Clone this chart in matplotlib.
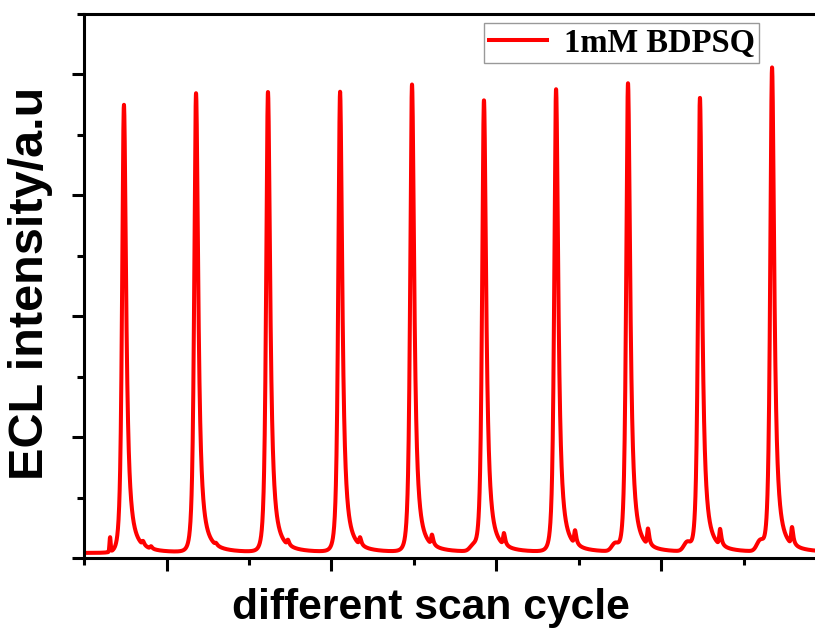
import numpy as np
import matplotlib
matplotlib.use("Agg")
import matplotlib.pyplot as plt
from matplotlib.ticker import MultipleLocator, NullFormatter

# ---- data (x in arbitrary scan units, y in a.u.) ----
peak_x = [74.2, 117.9, 161.5, 205.2, 248.8, 292.4, 336.1, 379.7, 423.3, 467.0]
peak_h = [3.75, 3.84, 3.85, 3.85, 3.91, 3.78, 3.87, 3.92, 3.80, 4.05]

# small secondary spikes after each cycle peak
bump_x = [85.8, 90.6, 130.0, 173.6, 217.3, 260.9, 304.5, 347.6, 391.8, 435.5, 479.1]
bump_h = [0.03, 0.02, 0.015, 0.04, 0.06, 0.08, 0.095, 0.11, 0.13, 0.13, 0.14]

# broad shoulders just before some peaks
shoulder_x = [285.8, 371.8, 415.5, 459.7]
shoulder_h = [0.04, 0.06, 0.07, 0.08]

# narrow spike at the very start
spike_x = [65.8]
spike_h = [0.12]

baseline = 0.042
legend_label = "1mM BDPSQ"

# ---- build trace ----
x = np.linspace(50, 500, 6000)
y = np.full_like(x, baseline)
gl, gr = 2.0, 1.6
for c, h in zip(peak_x, peak_h):
    d = x - c
    left = 1.0 / (1.0 + (d / gl) ** 2) ** 2
    right = 1.0 / (1.0 + (d / gr) ** 2)
    y += (h - baseline) * np.where(d < 0, left, right)
for c, h in zip(bump_x, bump_h):
    d = x - c
    y += h * np.where(d < 0, np.exp(-0.5 * (d / 0.5) ** 2), 1.0 / (1.0 + (d / 0.9) ** 2))
for c, h in zip(shoulder_x, shoulder_h):
    y += h * np.exp(-0.5 * ((x - c) / 2.0) ** 2)
for c, h in zip(spike_x, spike_h):
    y += h * np.exp(-0.5 * ((x - c) / 0.35) ** 2)

# ---- figure ----
W, H = 815, 635
fig = plt.figure(figsize=(W / 100, H / 100), dpi=100)
left_px, right_px, top_px, bot_px = 84, 826.5, 14, 558
ax = fig.add_axes([left_px / W, (H - bot_px) / H, (right_px - left_px) / W, (bot_px - top_px) / H])

ax.plot(x, y, color="#ff0000", lw=2.9, label=legend_label, solid_joinstyle="round")
ax.set_xlim(50, 500)
ax.set_ylim(0, 4.5)

ax.xaxis.set_major_locator(MultipleLocator(100))
ax.xaxis.set_minor_locator(MultipleLocator(50))
ax.yaxis.set_major_locator(MultipleLocator(1))
ax.yaxis.set_minor_locator(MultipleLocator(0.5))
ax.xaxis.set_major_formatter(NullFormatter())
ax.yaxis.set_major_formatter(NullFormatter())
ax.tick_params(which="major", direction="out", length=9, width=2.2)
ax.tick_params(which="minor", direction="out", length=5, width=2.2)
ax.tick_params(top=False, right=False, which="both")
for s in ax.spines.values():
    s.set_linewidth(2.2)

fig.text(431 / W, 1 - 608 / H, "different scan cycle", ha="center", va="center",
         fontsize=30.7, fontweight="bold", family=["Liberation Sans", "DejaVu Sans"])
fig.text(31 / W, 1 - 283 / H, "ECL intensity/a.u", ha="center", va="center", rotation=90,
         fontsize=35, fontweight="bold", family=["Liberation Sans", "DejaVu Sans"])

leg = ax.legend(loc="upper left", bbox_to_anchor=(484 / W, 1 - 23 / H),
                bbox_transform=fig.transFigure, borderaxespad=0,
                prop={"family": ["Liberation Serif", "DejaVu Serif"], "weight": "bold", "size": 23.5},
                frameon=True, fancybox=False, edgecolor="#999999", framealpha=1,
                handlelength=1.8, handletextpad=0.5, borderpad=0.14)
leg.get_frame().set_linewidth(1.0)

fig.savefig("out.png", dpi=100)
